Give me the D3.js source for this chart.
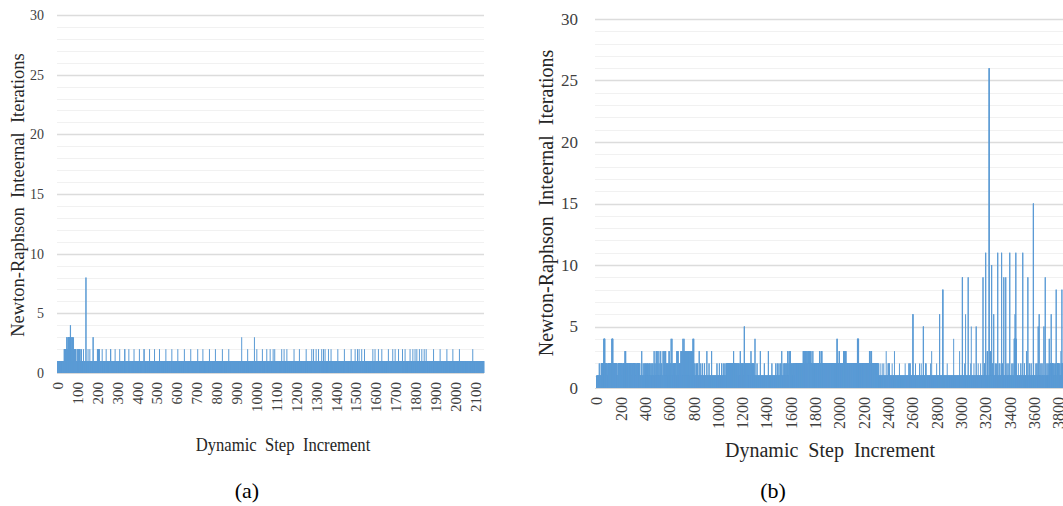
<!DOCTYPE html>
<html>
<head>
<meta charset="utf-8">
<script src="https://cdn.jsdelivr.net/npm/d3@7"></script>
<style>
  html, body { margin: 0; padding: 0; background: #fff; }
  svg { display: block; }
  text { font-family: "Liberation Serif", "Times New Roman", serif; }
</style>
</head>
<body>
<svg id="fig" width="1063" height="506"></svg>
<script>
// ---------- data ----------
const yTicks = [0, 5, 10, 15, 20, 25, 30];

// (a) shorter run
const stepCountA = 2143;
const xTicksA = [0, 100, 200, 300, 400, 500, 600, 700, 800, 900, 1000,
  1100, 1200, 1300, 1400, 1500, 1600, 1700, 1800, 1900, 2000, 2100];
// every step needs at least one iteration; entries are [first step, last step, iterations]
const raisedA = [
  [33, 44, 2], [46, 48, 3], [50, 52, 2], [54, 57, 3], [59, 61, 3], [64, 65, 4], [67, 69, 3],
  [71, 73, 2], [75, 76, 3], [80, 80, 3], [82, 85, 2], [87, 91, 2], [98, 99, 2], [103, 104, 2],
  [107, 108, 2], [111, 113, 2], [120, 120, 2], [130, 130, 2], [142, 143, 8], [153, 153, 2],
  [162, 162, 2], [178, 179, 3], [200, 201, 2], [205, 206, 2], [209, 210, 2], [224, 224, 2],
  [244, 244, 2], [266, 267, 2], [289, 289, 2], [312, 312, 2], [337, 338, 2], [358, 358, 2],
  [384, 384, 2], [411, 411, 2], [434, 435, 2], [462, 462, 2], [487, 487, 2], [512, 512, 2],
  [544, 544, 2], [574, 574, 2], [604, 604, 2], [637, 637, 2], [669, 669, 2], [704, 704, 2],
  [730, 730, 2], [763, 763, 2], [793, 793, 2], [828, 828, 2], [860, 860, 2], [925, 925, 3],
  [955, 955, 2], [989, 989, 3], [1001, 1001, 2], [1029, 1029, 2], [1051, 1051, 2],
  [1068, 1068, 2], [1083, 1083, 2], [1091, 1091, 2], [1126, 1126, 2], [1138, 1138, 2],
  [1152, 1152, 2], [1188, 1188, 2], [1215, 1215, 2], [1249, 1249, 2], [1277, 1277, 2],
  [1286, 1286, 2], [1299, 1299, 2], [1311, 1311, 2], [1327, 1327, 2], [1336, 1336, 2],
  [1344, 1344, 2], [1361, 1361, 2], [1374, 1374, 2], [1408, 1408, 2], [1441, 1441, 2],
  [1475, 1475, 2], [1495, 1495, 2], [1507, 1507, 2], [1515, 1515, 2], [1528, 1528, 2],
  [1542, 1542, 2], [1584, 1584, 2], [1595, 1595, 2], [1612, 1612, 2], [1629, 1629, 2],
  [1662, 1662, 2], [1684, 1684, 2], [1696, 1696, 2], [1713, 1713, 2], [1733, 1733, 2],
  [1746, 1746, 2], [1771, 1771, 2], [1785, 1785, 2], [1796, 1796, 2], [1805, 1805, 2],
  [1818, 1818, 2], [1830, 1830, 2], [1842, 1842, 2], [1852, 1852, 2], [1889, 1889, 2],
  [1922, 1922, 2], [1956, 1956, 2], [1986, 1986, 2], [2019, 2019, 2], [2086, 2086, 2]
];

// (b) longer run
const stepCountB = 3950;
const xTicksB = [0, 200, 400, 600, 800, 1000, 1200, 1400, 1600, 1800, 2000,
  2200, 2400, 2600, 2800, 3000, 3200, 3400, 3600, 3800];
// later entries overwrite earlier ones
const raisedB = [
  [22, 23, 2], [38, 86, 2], [60, 68, 4], [94, 168, 2], [126, 134, 4], [178, 210, 2],
  [217, 264, 2], [234, 240, 3], [270, 292, 2], [297, 320, 2], [330, 356, 2], [371, 372, 3],
  [383, 384, 2], [392, 393, 2], [400, 402, 2], [410, 411, 2], [418, 420, 2], [428, 429, 2],
  [436, 438, 2], [446, 447, 2], [455, 457, 2], [464, 465, 2], [473, 474, 3], [480, 482, 2],
  [490, 491, 3], [497, 499, 3], [505, 506, 2], [512, 513, 3], [520, 521, 2], [527, 528, 3],
  [535, 537, 2], [547, 549, 3], [555, 557, 2], [561, 563, 3], [568, 569, 3],
  [576, 580, 2], [586, 590, 2], [596, 598, 3], [604, 608, 2], [613, 614, 4], [617, 618, 2],
  [620, 621, 4], [628, 632, 2], [638, 642, 2], [648, 652, 2], [660, 662, 3], [668, 671, 3],
  [677, 680, 2], [686, 690, 2], [694, 697, 3], [702, 705, 3], [710, 711, 4], [715, 718, 3],
  [719, 720, 4], [725, 728, 3], [733, 736, 3], [742, 745, 3], [750, 753, 3], [758, 761, 3],
  [767, 770, 3], [776, 779, 3], [785, 788, 3], [793, 795, 4], [799, 800, 4],
  [808, 810, 2], [822, 823, 2], [830, 832, 2], [844, 845, 3], [857, 858, 2], [872, 873, 2],
  [888, 889, 2], [907, 908, 3], [925, 926, 2], [946, 947, 3],
  [990, 991, 2], [1010, 1011, 2], [1028, 1029, 2], [1042, 1043, 2], [1055, 1056, 2], [1066, 1068, 2],
  [1072, 1150, 2], [1127, 1128, 3], [1155, 1158, 2], [1163, 1166, 2], [1171, 1174, 2],
  [1182, 1183, 3], [1188, 1192, 2], [1197, 1200, 2], [1205, 1208, 2], [1215, 1217, 5],
  [1222, 1225, 2], [1230, 1234, 2], [1240, 1244, 2], [1250, 1254, 2], [1260, 1264, 2],
  [1270, 1271, 3], [1276, 1280, 2], [1285, 1290, 2], [1294, 1296, 2], [1303, 1304, 4],
  [1320, 1321, 2], [1347, 1348, 3], [1380, 1381, 2], [1413, 1414, 3], [1442, 1443, 2],
  [1474, 1475, 2], [1487, 1488, 2], [1500, 1501, 2], [1512, 1513, 2], [1523, 1524, 3],
  [1535, 1536, 2], [1545, 1547, 2], [1556, 1558, 2], [1565, 1567, 2], [1573, 1575, 3],
  [1582, 1584, 2], [1590, 1595, 3], [1600, 1602, 2], [1607, 1610, 2], [1617, 1620, 2],
  [1625, 1630, 2],
  [1636, 2318, 2], [1700, 1703, 3], [1710, 1713, 3], [1720, 1723, 3], [1730, 1732, 3],
  [1740, 1743, 3], [1750, 1752, 3], [1760, 1764, 3], [1779, 1780, 3], [1834, 1836, 3],
  [1848, 1854, 3], [1978, 1980, 4], [1996, 1998, 3], [2032, 2034, 3], [2040, 2042, 3],
  [2048, 2052, 3], [2146, 2150, 4], [2153, 2156, 4], [2245, 2248, 3], [2258, 2263, 3],
  [2333, 2333, 2], [2350, 2350, 2], [2363, 2363, 2], [2383, 2383, 3], [2399, 2401, 2],
  [2408, 2410, 2], [2432, 2432, 2], [2451, 2451, 3], [2492, 2492, 2], [2539, 2539, 2],
  [2569, 2570, 2], [2578, 2580, 2], [2602, 2604, 6], [2624, 2624, 2], [2657, 2657, 2],
  [2671, 2671, 2], [2688, 2690, 5], [2707, 2708, 2], [2712, 2712, 2], [2748, 2748, 2],
  [2757, 2757, 3], [2798, 2798, 2], [2822, 2823, 6], [2848, 2850, 8], [2885, 2885, 2],
  [2938, 2938, 4], [2987, 2987, 3], [3009, 3011, 9], [3028, 3028, 2], [3036, 3036, 6],
  [3057, 3058, 9], [3078, 3078, 2], [3083, 3083, 5], [3105, 3105, 2], [3123, 3124, 5],
  [3140, 3140, 2], [3160, 3160, 2], [3179, 3180, 9], [3190, 3192, 2], [3201, 3202, 11],
  [3214, 3218, 3], [3229, 3231, 26], [3240, 3242, 3], [3250, 3251, 10], [3258, 3260, 2],
  [3267, 3268, 6], [3280, 3281, 2], [3290, 3290, 2], [3300, 3301, 11], [3312, 3313, 2],
  [3320, 3320, 2], [3332, 3333, 11], [3340, 3341, 2], [3350, 3351, 9], [3366, 3367, 9],
  [3375, 3375, 2], [3385, 3386, 2], [3399, 3400, 11], [3415, 3415, 2], [3425, 3426, 2],
  [3436, 3442, 4], [3443, 3444, 6], [3449, 3450, 11], [3454, 3455, 4], [3470, 3470, 2],
  [3490, 3491, 2], [3506, 3507, 11], [3520, 3521, 2], [3537, 3538, 3], [3548, 3549, 9],
  [3560, 3561, 2], [3575, 3576, 2], [3593, 3595, 15], [3610, 3610, 2], [3622, 3624, 2],
  [3633, 3634, 5], [3641, 3642, 6], [3655, 3656, 2], [3665, 3666, 2], [3680, 3681, 5],
  [3691, 3692, 9], [3705, 3706, 2], [3715, 3716, 2], [3724, 3725, 4], [3730, 3736, 2],
  [3740, 3741, 6], [3745, 3757, 2], [3765, 3766, 2], [3775, 3776, 2], [3781, 3782, 8],
  [3790, 3800, 2], [3805, 3806, 2], [3812, 3813, 2], [3820, 3820, 3], [3825, 3827, 2],
  [3828, 3829, 8], [3835, 3850, 2]
];

// ---------- drawing ----------
const BLUE = "#5B9BD5";
const svg = d3.select("#fig");

function iterationsPerStep(count, raised) {
  const v = new Array(count).fill(1);
  raised.forEach(([a, b, n]) => { for (let i = a; i <= b && i < count; i++) v[i] = n; });
  return v;
}

function panel(cfg) {
  const g = svg.append("g");
  const values = iterationsPerStep(cfg.count, cfg.raised);
  const steps = d3.range(cfg.count);

  const x = d3.scaleBand().domain(steps).range([cfg.barLeft, cfg.barRight]).padding(0);
  const y = d3.scaleLinear().domain([0, 30]).range([cfg.y0, cfg.y30]);
  const bw = x.bandwidth();
  const w = Math.max(bw, 1);

  // horizontal grid, one line per iteration, heavier every five
  g.append("g").selectAll("line").data(d3.range(1, 31)).join("line")
    .attr("x1", cfg.gridLeft).attr("x2", cfg.gridRight)
    .attr("y1", d => Math.round(y(d)) + 0.5).attr("y2", d => Math.round(y(d)) + 0.5)
    .attr("stroke", d => d % 5 === 0 ? "#dcdcdc" : "#f1f1f1")
    .attr("stroke-width", d => d % 5 === 0 ? 1.3 : 1);

  g.append("g").selectAll("rect").data(steps).join("rect")
    .attr("x", i => x(i) + bw / 2 - w / 2)
    .attr("width", w)
    .attr("y", i => y(values[i]))
    .attr("height", i => cfg.y0 - y(values[i]))
    .attr("fill", BLUE);

  g.append("line")
    .attr("x1", cfg.gridLeft).attr("x2", cfg.gridRight)
    .attr("y1", cfg.y0 + 0.5).attr("y2", cfg.y0 + 0.5)
    .attr("stroke", "#d9d9d9");

  // value axis
  const ya = g.append("g").attr("transform", `translate(${cfg.yLabelX},0)`)
    .call(d3.axisLeft(y).tickValues(yTicks).tickSize(0).tickPadding(0));
  ya.select(".domain").remove();
  ya.selectAll("text").attr("fill", "#404040")
    .style("font-family", '"Liberation Serif", serif')
    .style("font-size", cfg.yTickSize + "px");

  // step axis, labels turned upright
  const xa = g.append("g").attr("transform", `translate(0,${cfg.y0})`)
    .call(d3.axisBottom(x).tickValues(cfg.xTicks).tickSize(0));
  xa.select(".domain").remove();
  xa.selectAll("text")
    .attr("transform", "rotate(-90)")
    .attr("x", -cfg.xLabelGap).attr("y", 0).attr("dy", "0.33em")
    .style("text-anchor", "end")
    .attr("fill", "#404040")
    .style("font-family", '"Liberation Serif", serif')
    .style("font-size", cfg.xTickSize + "px");

  // titles
  g.append("text")
    .attr("transform", `translate(${cfg.yTitleX},${cfg.yTitleY}) rotate(-90)`)
    .attr("text-anchor", "middle")
    .style("white-space", "pre")
    .style("font-size", cfg.titleSize + "px")
    .attr("fill", "#262626")
    .text("Newton-Raphson  Inteernal  Iterations");

  g.append("text")
    .attr("transform", `translate(${cfg.xTitleX},${cfg.xTitleY}) scale(${cfg.xTitleStretch},1)`)
    .attr("text-anchor", "middle")
    .style("white-space", "pre")
    .style("font-size", cfg.xTitleSize + "px")
    .attr("fill", "#262626")
    .text("Dynamic  Step  Increment");

  g.append("text")
    .attr("x", cfg.capX).attr("y", 498)
    .attr("text-anchor", "middle")
    .style("font-size", "22px")
    .attr("fill", "#000")
    .text(cfg.caption);
}

panel({
  count: stepCountA, raised: raisedA, xTicks: xTicksA,
  barLeft: 57.5, barRight: 484, gridLeft: 57, gridRight: 484,
  y0: 373, y30: 15,
  yLabelX: 44, yTickSize: 14, xTickSize: 15, xLabelGap: 9,
  yTitleX: 24, yTitleY: 195, titleSize: 18.5,
  xTitleX: 283, xTitleY: 451, xTitleSize: 18.5, xTitleStretch: 0.9,
  capX: 247, caption: "(a)"
});

panel({
  count: stepCountB, raised: raisedB, xTicks: xTicksB,
  barLeft: 596.5, barRight: 1076.6, gridLeft: 595, gridRight: 1063,
  y0: 388, y30: 19,
  yLabelX: 578, yTickSize: 17, xTickSize: 16, xLabelGap: 9,
  yTitleX: 553, yTitleY: 203, titleSize: 20,
  xTitleX: 830, xTitleY: 457, xTitleSize: 20, xTitleStretch: 1,
  capX: 773, caption: "(b)"
});
</script>
</body>
</html>
